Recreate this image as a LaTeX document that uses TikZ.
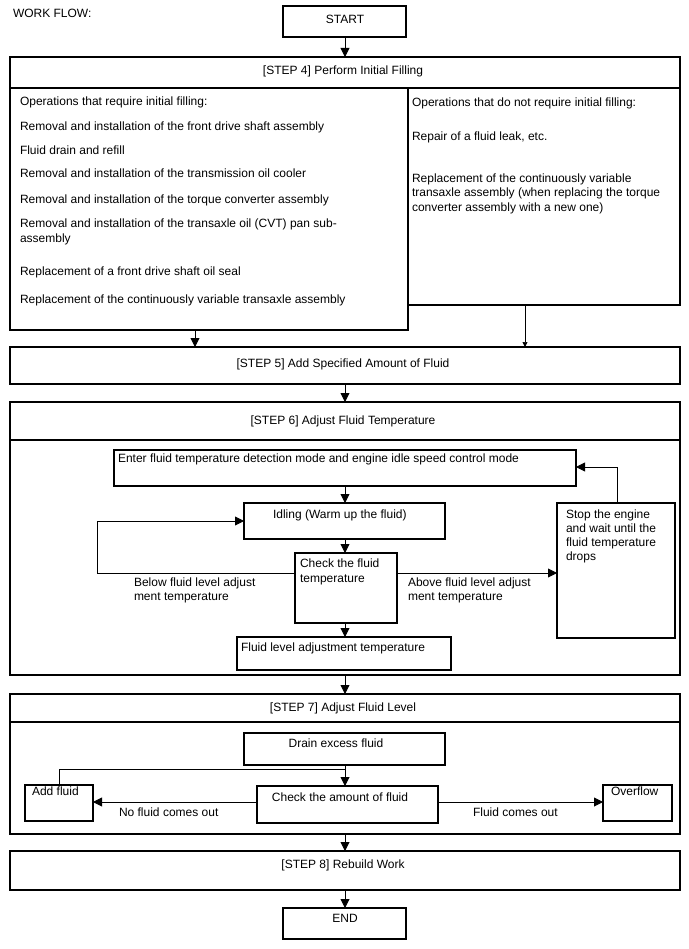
\documentclass[tikz,border=0pt]{standalone}
\usepackage{fontspec}
\setmainfont{Liberation Sans}
\usetikzlibrary{arrows.meta}
\tikzset{
  box/.style={draw, line width=1.4pt, inner sep=0pt, outer sep=0pt},
  txt/.style={inner sep=0pt, outer sep=0pt, font=\fontsize{12}{14}\selectfont, anchor=base west},
  ctxt/.style={txt, anchor=base},
  arr/.style={line width=0.9pt, -{Triangle[length=9pt,width=9pt]}},
  arrs/.style={line width=0.7pt, -{Triangle[length=5pt,width=5pt]}},
  ln/.style={line width=0.9pt},
}
\newcommand\bx[5]{\node[box,minimum width={(#4-#2)*1pt},minimum height={(#5-#3)*1pt}] (#1) at ({(#2+#4)/2},{(#3+#5)/2}) {};}
\begin{document}
\begin{tikzpicture}[x=1pt,y=-1pt]
\useasboundingbox (0,0) rectangle (688,949);
% boxes
\bx{start}{283}{6}{406}{37}
\bx{s4h}{10}{57}{680}{88}
\bx{s4l}{10}{88}{408}{330}
\bx{s4r}{408}{88}{680}{305}
\bx{s5}{10}{347}{680}{384}
\bx{s6h}{10}{402}{680}{440}
\bx{s6b}{10}{440}{680}{675}
\bx{enter}{114}{450}{576}{486}
\bx{idle}{244}{503}{445}{539}
\bx{chk}{295}{553}{397}{623}
\bx{fla}{237}{637}{451}{670}
\bx{stop}{557}{503}{675}{638}
\bx{s7h}{10}{694}{680}{722}
\bx{s7b}{10}{722}{680}{834}
\bx{drain}{244}{733}{445}{765}
\bx{addf}{25}{785}{93}{821}
\bx{chka}{257}{786}{438}{823}
\bx{ovf}{603}{785}{672}{821}
\bx{s8}{10}{851}{680}{890}
\bx{endb}{283}{908}{406}{939}
% texts
\node[txt] (wf) at (13,18) {WORK FLOW:};
\node[ctxt] (tstart) at (345,23.5) {START};
\node[ctxt] (t4) at (343,74.5) {[STEP 4] Perform Initial Filling};
\node[txt] (l1) at (20,105.5) {Operations that require initial filling:};
\node[txt] (l2) at (20,131) {Removal and installation of the front drive shaft assembly};
\node[txt] (l3) at (20,154.5) {Fluid drain and refill};
\node[txt] (l4) at (20,177.5) {Removal and installation of the transmission oil cooler};
\node[txt] (l5) at (20,203.5) {Removal and installation of the torque converter assembly};
\node[txt] (l6) at (20,227.5) {Removal and installation of the transaxle oil (CVT) pan sub-};
\node[txt] (l6b) at (20,242.5) {assembly};
\node[txt] (l7) at (20,275.5) {Replacement of a front drive shaft oil seal};
\node[txt] (l8) at (20,303.5) {Replacement of the continuously variable transaxle assembly};
\node[txt] (r1) at (412,106.5) {Operations that do not require initial filling:};
\node[txt] (r2) at (412,140.5) {Repair of a fluid leak, etc.};
\node[txt] (r3) at (412,182.5) {Replacement of the continuously variable};
\node[txt] (r3b) at (412,197) {transaxle assembly (when replacing the torque};
\node[txt] (r3c) at (412,211.5) {converter assembly with a new one)};
\node[ctxt] (t5) at (343,367.5) {[STEP 5] Add Specified Amount of Fluid};
\node[ctxt] (t6) at (343,424.5) {[STEP 6] Adjust Fluid Temperature};
\node[txt] (tenter) at (118,462.5) {Enter fluid temperature detection mode and engine idle speed control mode};
\node[txt] (tidle) at (273,518.5) {Idling (Warm up the fluid)};
\node[txt] (tchk1) at (300,567.5) {Check the fluid};
\node[txt] (tchk2) at (300,582) {temperature};
\node[txt] (tfla) at (241,651) {Fluid level adjustment temperature};
\node[txt] (tb1) at (134,586) {Below fluid level adjust};
\node[txt] (tb2) at (134,600.5) {ment temperature};
\node[txt] (ta1) at (408,586) {Above fluid level adjust};
\node[txt] (ta2) at (408,600.5) {ment temperature};
\node[txt] (ts1) at (566,518.5) {Stop the engine};
\node[txt] (ts2) at (566,532.5) {and wait until the};
\node[txt] (ts3) at (566,546.5) {fluid temperature};
\node[txt] (ts4) at (566,560.5) {drops};
\node[ctxt] (t7) at (343,711.5) {[STEP 7] Adjust Fluid Level};
\node[ctxt] (tdrain) at (336,747) {Drain excess fluid};
\node[txt] (tadd) at (32,795.5) {Add fluid};
\node[ctxt] (tchka) at (340,801.5) {Check the amount of fluid};
\node[txt] (tovf) at (611,795.5) {Overflow};
\node[txt] (tno) at (119,816.5) {No fluid comes out};
\node[txt] (tyes) at (473,816.5) {Fluid comes out};
\node[ctxt] (t8) at (343,868.5) {[STEP 8] Rebuild Work};
\node[ctxt] (tend) at (345,922.5) {END};
% helper coordinates
\coordinate (cx) at (345,0);
\coordinate (xl) at (195,0);
\coordinate (xr) at (525,0);
\coordinate (lp) at (97,573);
\coordinate (sx) at (617,467);
\coordinate (j) at (345,769);
\coordinate (ay) at (0,802);
% connectors
\draw[arr] (start.south -| cx) -- (s4h.north -| cx);
\draw[arr] (s4l.south -| xl) -- (s5.north -| xl);
\draw[arrs] (s4r.south -| xr) -- (s5.north -| xr);
\draw[arr] (s5.south -| cx) -- (s6h.north -| cx);
\draw[arr] (enter.south -| cx) -- (idle.north -| cx);
\draw[arr] (idle.south -| cx) -- (chk.north -| cx);
\draw[arr] (chk.west |- lp) -- (lp) |- (idle.west);
\draw[arr] (chk.east |- lp) -- (stop.west |- lp);
\draw[arr] (stop.north -| sx) -- (sx) -- (enter.east |- sx);
\draw[arr] (chk.south -| cx) -- (fla.north -| cx);
\draw[arr] (s6b.south -| cx) -- (s7h.north -| cx);
\draw[ln] (drain.south -| j) -- (j);
\draw[arr] (j) -- (chka.north -| j);
\draw[ln] (j) -| (addf.north);
\draw[arr] (chka.west |- ay) -- (addf.east |- ay);
\draw[arr] (chka.east |- ay) -- (ovf.west |- ay);
\draw[arr] (s7b.south -| cx) -- (s8.north -| cx);
\draw[arr] (s8.south -| cx) -- (endb.north -| cx);
\end{tikzpicture}
\end{document}
